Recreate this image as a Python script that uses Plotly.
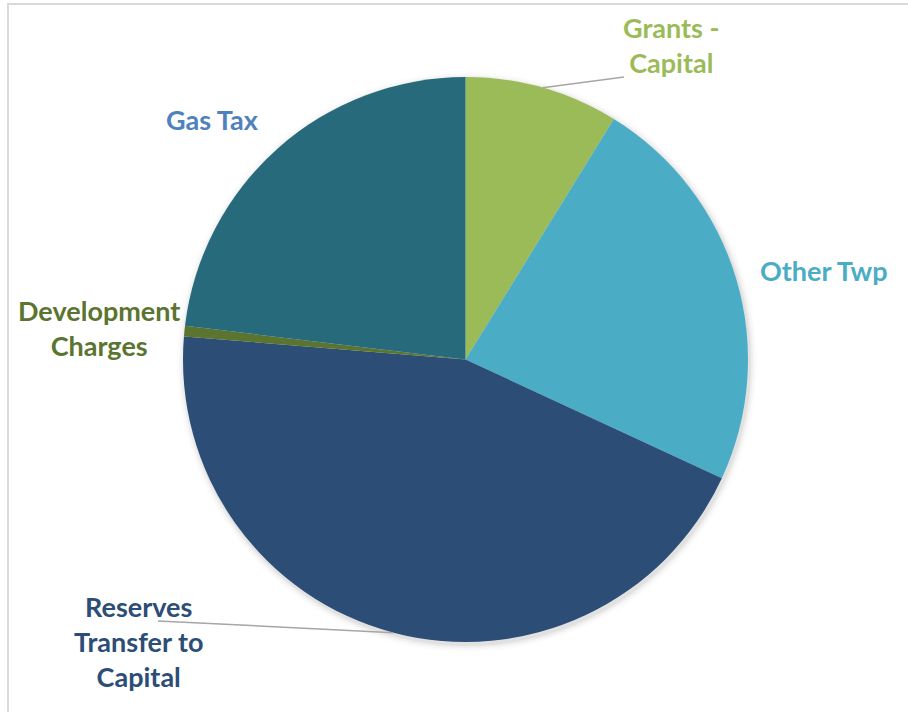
import math
import plotly.graph_objects as go

# Capital funding sources (share of total, %)
labels = ["Grants - Capital", "Other Twp", "Reserves Transfer to Capital",
          "Development Charges", "Gas Tax"]
values = [8.8, 23.1, 44.4, 0.6, 23.1]
slice_colors = ["#9BBB59", "#4BACC6", "#2C4D75", "#5B7530", "#276A7C"]

label_text = ["Grants -<br>Capital", "Other Twp", "Reserves<br>Transfer to<br>Capital",
              "Development<br>Charges", "Gas Tax"]
label_colors = ["#9BBB59", "#4BACC6", "#2C4D75", "#5B7530", "#4F81BD"]

# Page geometry (pixels)
W, H = 908, 712
CX, CY, R = 465.5, 359.5, 282.5

# Label centres and leader-line ends (pixels); None = no leader line
label_pos = [(671, 45), (824, 270), (138, 641), (99, 328), (212, 120)]
leader_end = [(624, 77), None, (158, 621), None, None]


def px(x):
    return x / W


def py(y):
    return 1 - y / H


fig = go.Figure()

fig.add_trace(go.Pie(
    labels=labels,
    values=values,
    sort=False,
    direction="clockwise",
    rotation=0,
    marker=dict(colors=slice_colors, line=dict(width=0)),
    textinfo="none",
    hoverinfo="label+percent",
    showlegend=False,
    domain=dict(x=[px(CX - R), px(CX + R)], y=[py(CY + R), py(CY - R)]),
))

shapes = []

# Soft shadow behind the pie
for i, a in enumerate([0.05, 0.035, 0.02, 0.01]):
    r = R + 1.5 + i * 2
    ox, oy = 1.5, 2.5
    shapes.append(dict(
        type="circle", xref="paper", yref="paper", layer="below",
        x0=px(CX + ox - r), x1=px(CX + ox + r),
        y0=py(CY + oy + r), y1=py(CY + oy - r),
        line=dict(width=0), fillcolor=f"rgba(0,0,0,{a})",
    ))

# Leader lines from the middle of each slice's rim
total = sum(values)
cum = 0.0
for v, end in zip(values, leader_end):
    mid = (cum + v / 2) / total * 360.0
    cum += v
    if end is None:
        continue
    ex = CX + R * math.sin(math.radians(mid))
    ey = CY - R * math.cos(math.radians(mid))
    shapes.append(dict(
        type="line", xref="paper", yref="paper",
        x0=px(ex), y0=py(ey), x1=px(end[0]), y1=py(end[1]),
        line=dict(color="#A6A6A6", width=1.5),
    ))

# Chart frame
shapes.append(dict(
    type="rect", xref="paper", yref="paper",
    x0=px(8), x1=1.05, y0=-0.05, y1=py(4),
    line=dict(color="#D9D9D9", width=2), fillcolor="rgba(0,0,0,0)",
))

annotations = []
for txt, col, (lx, ly) in zip(label_text, label_colors, label_pos):
    annotations.append(dict(
        text=txt, x=px(lx), y=py(ly), xref="paper", yref="paper",
        xanchor="center", yanchor="middle", showarrow=False, align="center",
        font=dict(family="Lato", size=27, color=col, weight=700),
    ))

fig.update_layout(
    width=W, height=H,
    margin=dict(l=0, r=0, t=0, b=0),
    paper_bgcolor="white",
    plot_bgcolor="white",
    shapes=shapes,
    annotations=annotations,
)

fig.write_html("out.html")
